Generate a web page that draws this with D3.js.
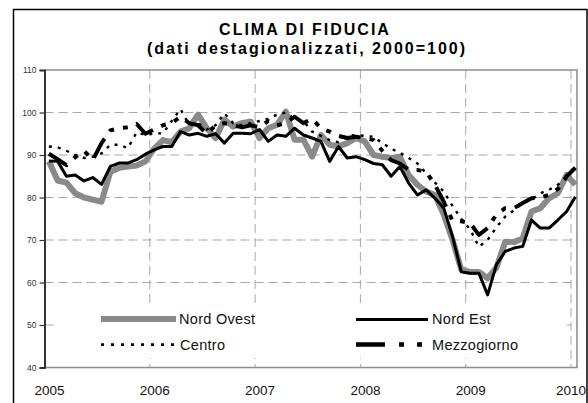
<!DOCTYPE html>
<html><head><meta charset="utf-8">
<script src="https://cdn.jsdelivr.net/npm/d3@7"></script>
<style>
body{margin:0;background:#fff}
svg{display:block}
text{font-family:"Liberation Sans",Arial,sans-serif}
</style>
</head><body>
<svg id="c" width="588" height="403"></svg>
<script>
// ---- data (monthly, Jan 2005 .. Jan 2010) ----
const years = ["2005","2006","2007","2008","2009","2010"];
const yTicks = [40,50,60,70,80,90,100,110];
const seriesNames = ["Nord Ovest","Nord Est","Centro","Mezzogiorno"];

const nordOvest = [
  88.5, 84, 83.5, 81, 80, 79.5, 79, 86, 87, 87.3, 87.5, 88.5,
  91.5, 93.5, 93, 95.5, 96.3, 99.5, 96.3, 94, 98.3, 96.7, 97.5, 97.9,
  94, 96.3, 97.1, 100.2, 93.6, 93.6, 89.6, 94.7, 92.4, 92, 92.8, 94,
  93.2, 90, 89.6, 89.3, 89.6, 85.3, 83, 81.4, 80.6, 76, 70, 63,
  62.5, 62.5, 61, 63.5, 69.6, 69.5, 70.4, 76.7, 77.5, 79.8, 81, 85.3, 83
];
const nordEst = [
  88.6, 88.5, 85, 85.3, 83.9, 84.7, 83.1, 87.3, 88.1, 88.1, 88.9, 90.2,
  91.2, 92, 92, 95.5, 94.7, 95.1, 94.4, 95, 92.8, 95.1, 95.1, 95,
  96, 93.2, 94.7, 94.4, 96.3, 94.7, 94, 93.2, 88.5, 92, 89.3, 89.6,
  88.9, 88, 87.7, 85, 87.3, 83.4, 80.6, 81.8, 79.8, 77.5, 70.8, 62.5,
  62.2, 62.2, 57.1, 64.2, 67.3, 68.1, 68.5, 74.7, 72.8, 72.8, 74.7, 76.7, 80.2
];
const centro = [
  92, 91.8, 91, 90, 89.3, 89.6, 90.4, 92.4, 92.4, 91.6, 95.3, 94.7,
  95.1, 95.1, 98, 100.8, 97, 97.5, 96, 97, 99.8, 97.5, 97, 97.5,
  98, 98.5, 99.5, 100, 98.5, 98, 95.5, 94.5, 93.5, 93, 94.5, 94.7,
  94.5, 94.3, 92.8, 91.5, 90.5, 89.3, 88, 85.7, 83.5, 81.4, 78, 75,
  72.5, 68.4, 70, 73, 75.5, 77, 78.7, 79.5, 81, 81.8, 83, 84.5, 87
];
const mezzogiorno = [
  90.3, 89, 87.6, 89.5, 91, 88.8, 92.8, 95.8, 96.3, 96.5, 97.3, 95,
  96, 97, 97.5, 99, 97.5, 97, 95, 97, 97.5, 97, 96.5, 97,
  96.5, 98, 97, 97.5, 99, 97.5, 98.5, 96.3, 95.5, 94.5, 94, 94.3,
  94, 93.5, 91, 88.8, 88, 86.5, 86.5, 86, 83, 79, 74.5, 74.4,
  74, 71.2, 72.8, 76, 77.5, 77.5, 78.7, 79.8, 80, 80.6, 82, 85, 87
];

// ---- layout ----
const FONT = "'Liberation Sans', Arial, sans-serif";
const svg = d3.select("#c");
const plotL = 44.5, plotR = 577, plotT = 70, plotB = 367.5;
const x = d3.scaleLinear().domain([0, (years.length-1)*12]).range([plotL, 571]);
const y = d3.scaleLinear().domain([40, 110]).range([plotB, plotT]);
const yearPos = years.map((_, i) => i*12);

// outer frame
svg.append("path")
  .attr("d", `M13.5,403 L13.5,9.5 L587,9.5 L587,403`)
  .attr("fill","none").attr("stroke","#000").attr("stroke-width",1.5);

// title
const title = svg.append("g").attr("font-weight","bold").attr("font-size",16)
  .attr("font-family",FONT)
  .attr("text-anchor","middle").attr("letter-spacing","2px").attr("fill","#000");
title.append("text").attr("x",305).attr("y",35).text("CLIMA DI FIDUCIA");
title.append("text").attr("x",307).attr("y",54).text("(dati destagionalizzati, 2000=100)");

// gridlines
const grid = svg.append("g").attr("stroke","#a8a8a8").attr("stroke-width",1).attr("stroke-dasharray","9,5");
grid.selectAll("line.h").data(yTicks.filter(v => v > 40 && v < 110)).join("line")
  .attr("x1",plotL).attr("x2",plotR).attr("y1",d=>y(d)).attr("y2",d=>y(d));
grid.selectAll("line.v").data(yearPos.slice(1)).join("line")
  .attr("x1",d=>x(d)).attr("x2",d=>x(d)).attr("y1",plotT).attr("y2",plotB);

// plot border (top/right/bottom)
svg.append("path")
  .attr("d", `M${plotL},${plotT} L${plotR},${plotT} L${plotR},${plotB} L${plotL},${plotB}`)
  .attr("fill","none").attr("stroke","#8f8f8f").attr("stroke-width",1.6);

// y axis
const yAxis = svg.append("g").attr("transform",`translate(${plotL},0)`)
  .call(d3.axisLeft(y).tickValues(yTicks).tickSize(5).tickPadding(3));
yAxis.select(".domain").attr("stroke","#333").attr("stroke-width",2);
yAxis.selectAll(".tick line").attr("stroke","#333").attr("stroke-width",1.2);
yAxis.selectAll(".tick text").attr("font-size",8.5).attr("fill","#333").attr("font-family",FONT);

// x axis labels
const xAxis = svg.append("g").attr("transform",`translate(0,${plotB})`)
  .call(d3.axisBottom(x).tickValues(yearPos).tickFormat((d,i)=>years[i]).tickSize(0));
xAxis.select(".domain").remove();
xAxis.selectAll(".tick text").attr("font-size",13.5).attr("fill","#111").attr("font-family",FONT)
  .attr("x",(d,i)=> i === years.length-1 ? -0.5 : 4.5).attr("y",27.5).attr("dy",0);

// series
const line = d3.line().x((d,i)=>x(i+0.5)).y(d=>y(d));
const styles = [
  {data:nordOvest, stroke:"#8a8a8a", w:6, dash:null},
  {data:nordEst, stroke:"#000", w:3, dash:null},
  {data:centro, stroke:"#000", w:2.4, dash:"3,6"},
  {data:mezzogiorno, stroke:"#000", w:4, dash:"22,9,5,9,5,9"}
];
svg.append("g").selectAll("path").data(styles).join("path")
  .attr("d", d=>line(d.data)).attr("fill","none")
  .attr("stroke", d=>d.stroke).attr("stroke-width", d=>d.w)
  .attr("stroke-linejoin","round")
  .attr("stroke-dasharray", d=>d.dash);

// legend
const lg = svg.append("g");
lg.append("rect").attr("x",57).attr("y",307).attr("width",510).attr("height",51).attr("fill","#fff");
const legItems = [
  {x1:101, x2:176, ly:319, tx:179, ty:324, stroke:"#8a8a8a", w:6, dash:null},
  {x1:356, x2:428, ly:319.5, tx:432, ty:324, stroke:"#000", w:3, dash:null},
  {x1:101, x2:177, ly:344.7, tx:180, ty:350, stroke:"#000", w:2.7, dash:"3,7"},
  {x1:356, x2:428, ly:344.5, tx:432, ty:350, stroke:"#000", w:4.3, dash:"29,14,5,13,5,13"}
];
legItems.forEach((it,i)=>{
  lg.append("line").attr("x1",it.x1).attr("x2",it.x2).attr("y1",it.ly).attr("y2",it.ly)
    .attr("stroke",it.stroke).attr("stroke-width",it.w).attr("stroke-dasharray",it.dash);
  lg.append("text").attr("x",it.tx).attr("y",it.ty).attr("font-size",14.5).attr("font-family",FONT)
    .attr("letter-spacing","0.3px").attr("fill","#111").text(seriesNames[i]);
});
</script>
</body></html>
